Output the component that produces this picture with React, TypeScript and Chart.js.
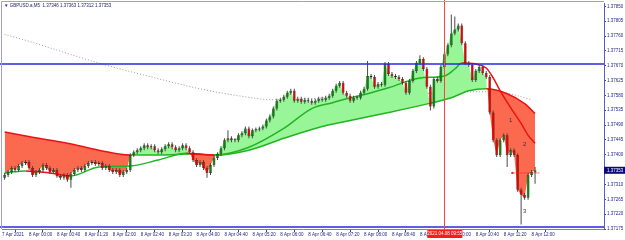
import React, { useEffect, useRef } from 'react';
import { Chart, registerables } from 'chart.js';
Chart.register(...registerables);

const title = 'GBPUSD.a,M5  1.37346 1.37363 1.37312 1.37353';

const opens = [1.37330,1.37339,1.37348,1.37360,1.37354,1.37366,1.37375,1.37378,1.37360,1.37339,
1.37348,1.37354,1.37369,1.37360,1.37348,1.37354,1.37336,1.37330,1.37339,1.37324,
1.37342,1.37354,1.37360,1.37354,1.37366,1.37375,1.37378,1.37372,1.37375,1.37360,
1.37366,1.37354,1.37348,1.37354,1.37339,1.37348,1.37354,1.37399,1.37408,1.37414,
1.37420,1.37429,1.37423,1.37426,1.37414,1.37408,1.37417,1.37426,1.37432,1.37423,
1.37414,1.37420,1.37429,1.37420,1.37408,1.37384,1.37369,1.37378,1.37360,1.37345,
1.37369,1.37390,1.37402,1.37420,1.37444,1.37450,1.37444,1.37444,1.37459,1.37465,
1.37480,1.37456,1.37474,1.37477,1.37480,1.37486,1.37504,1.37516,1.37540,1.37564,
1.37567,1.37576,1.37588,1.37594,1.37564,1.37570,1.37561,1.37567,1.37564,1.37558,
1.37564,1.37570,1.37567,1.37573,1.37579,1.37594,1.37609,1.37618,1.37588,1.37579,
1.37564,1.37573,1.37573,1.37588,1.37600,1.37639,1.37636,1.37606,1.37615,1.37612,
1.37675,1.37645,1.37639,1.37636,1.37630,1.37618,1.37588,1.37624,1.37654,1.37678,
1.37690,1.37660,1.37606,1.37546,1.37630,1.37624,1.37666,1.37705,1.37732,1.37768,
1.37780,1.37792,1.37738,1.37678,1.37672,1.37627,1.37654,1.37666,1.37648,1.37636,
1.37528,1.37444,1.37399,1.37444,1.37459,1.37399,1.37414,1.37399,1.37294,1.37279,
1.37270,1.37339,1.37346];

const highs = [1.37345,1.37354,1.37366,1.37366,1.37372,1.37381,1.37384,1.37384,1.37366,1.37354,
1.37360,1.37375,1.37375,1.37366,1.37360,1.37360,1.37342,1.37345,1.37345,1.37348,
1.37360,1.37366,1.37366,1.37372,1.37381,1.37384,1.37384,1.37381,1.37381,1.37372,
1.37372,1.37360,1.37360,1.37360,1.37354,1.37360,1.37405,1.37414,1.37420,1.37426,
1.37435,1.37435,1.37432,1.37432,1.37420,1.37423,1.37432,1.37438,1.37438,1.37429,
1.37426,1.37435,1.37435,1.37426,1.37414,1.37390,1.37384,1.37384,1.37366,1.37375,
1.37396,1.37408,1.37426,1.37450,1.37474,1.37456,1.37450,1.37465,1.37471,1.37486,
1.37486,1.37480,1.37483,1.37486,1.37492,1.37510,1.37522,1.37546,1.37570,1.37573,
1.37582,1.37594,1.37600,1.37600,1.37576,1.37576,1.37573,1.37573,1.37570,1.37570,
1.37576,1.37576,1.37579,1.37585,1.37600,1.37615,1.37624,1.37624,1.37594,1.37585,
1.37579,1.37579,1.37594,1.37606,1.37684,1.37645,1.37642,1.37621,1.37621,1.37681,
1.37681,1.37651,1.37645,1.37642,1.37636,1.37624,1.37630,1.37660,1.37684,1.37702,
1.37696,1.37666,1.37612,1.37636,1.37636,1.37672,1.37711,1.37738,1.37825,1.37819,
1.37798,1.37798,1.37744,1.37684,1.37678,1.37660,1.37672,1.37672,1.37654,1.37642,
1.37534,1.37450,1.37450,1.37465,1.37465,1.37420,1.37420,1.37405,1.37300,1.37285,
1.37345,1.37354,1.37363];

const lows = [1.37324,1.37333,1.37342,1.37348,1.37348,1.37360,1.37369,1.37354,1.37333,1.37333,
1.37342,1.37348,1.37354,1.37342,1.37342,1.37330,1.37324,1.37324,1.37318,1.37300,
1.37336,1.37348,1.37348,1.37348,1.37360,1.37369,1.37366,1.37366,1.37354,1.37354,
1.37348,1.37342,1.37342,1.37333,1.37333,1.37342,1.37348,1.37393,1.37402,1.37408,
1.37414,1.37417,1.37417,1.37408,1.37402,1.37402,1.37411,1.37420,1.37417,1.37408,
1.37408,1.37414,1.37414,1.37402,1.37378,1.37363,1.37363,1.37354,1.37330,1.37339,
1.37363,1.37384,1.37396,1.37414,1.37438,1.37438,1.37438,1.37438,1.37453,1.37459,
1.37450,1.37450,1.37468,1.37471,1.37474,1.37480,1.37498,1.37510,1.37534,1.37558,
1.37561,1.37570,1.37582,1.37558,1.37558,1.37555,1.37555,1.37558,1.37552,1.37552,
1.37558,1.37561,1.37561,1.37567,1.37573,1.37588,1.37603,1.37582,1.37573,1.37558,
1.37558,1.37567,1.37567,1.37582,1.37594,1.37630,1.37600,1.37600,1.37606,1.37606,
1.37639,1.37633,1.37630,1.37624,1.37612,1.37582,1.37582,1.37618,1.37648,1.37672,
1.37654,1.37600,1.37534,1.37540,1.37618,1.37618,1.37660,1.37699,1.37726,1.37762,
1.37774,1.37732,1.37672,1.37666,1.37621,1.37621,1.37648,1.37642,1.37630,1.37522,
1.37438,1.37393,1.37393,1.37438,1.37363,1.37393,1.37393,1.37288,1.37189,1.37264,
1.37264,1.37333,1.37312];

const closes = [1.37339,1.37348,1.37360,1.37354,1.37366,1.37375,1.37378,1.37360,1.37339,1.37348,
1.37354,1.37369,1.37360,1.37348,1.37354,1.37336,1.37330,1.37339,1.37324,1.37342,
1.37354,1.37360,1.37354,1.37366,1.37375,1.37378,1.37372,1.37375,1.37360,1.37366,
1.37354,1.37348,1.37354,1.37339,1.37348,1.37354,1.37399,1.37408,1.37414,1.37420,
1.37429,1.37423,1.37426,1.37414,1.37408,1.37417,1.37426,1.37432,1.37423,1.37414,
1.37420,1.37429,1.37420,1.37408,1.37384,1.37369,1.37378,1.37360,1.37345,1.37369,
1.37390,1.37402,1.37420,1.37444,1.37450,1.37444,1.37444,1.37459,1.37465,1.37480,
1.37456,1.37474,1.37477,1.37480,1.37486,1.37504,1.37516,1.37540,1.37564,1.37567,
1.37576,1.37588,1.37594,1.37564,1.37570,1.37561,1.37567,1.37564,1.37558,1.37564,
1.37570,1.37567,1.37573,1.37579,1.37594,1.37609,1.37618,1.37588,1.37579,1.37564,
1.37573,1.37573,1.37588,1.37600,1.37639,1.37636,1.37606,1.37615,1.37612,1.37675,
1.37645,1.37639,1.37636,1.37630,1.37618,1.37588,1.37624,1.37654,1.37678,1.37690,
1.37660,1.37606,1.37546,1.37630,1.37624,1.37666,1.37705,1.37732,1.37768,1.37780,
1.37792,1.37738,1.37678,1.37672,1.37627,1.37654,1.37666,1.37648,1.37636,1.37528,
1.37444,1.37399,1.37444,1.37459,1.37399,1.37414,1.37399,1.37294,1.37279,1.37270,
1.37339,1.37348,1.37353];

const slowIdx = [0, 8, 18, 27, 36, 45, 53, 60, 70, 80, 90, 99, 110, 119, 128, 133, 138, 144, 149, 152];
const slowVal = [1.37469,1.37453,1.37435,1.37414,1.37399,1.37399,1.37402,1.37399,1.37414,1.37450,1.37483,1.37504,1.37528,1.37549,1.37573,1.37594,1.37600,1.37585,1.37555,1.37525];

const fastIdx = [0, 6, 13, 19, 27, 36, 44, 52, 60, 70, 80, 88, 94, 98, 104, 110, 119, 126, 129, 131, 135, 138, 140, 142, 145, 148, 150, 152];
const fastVal = [1.37345,1.37351,1.37345,1.37336,1.37363,1.37366,1.37384,1.37405,1.37399,1.37423,1.37480,1.37540,1.37558,1.37570,1.37585,1.37603,1.37633,1.37639,1.37660,1.37678,1.37675,1.37663,1.37633,1.37594,1.37543,1.37495,1.37459,1.37435];

const longIdx = [0, 7, 16, 27, 42, 56, 67, 77, 99, 119, 136, 143, 151];
const longVal = [1.37765,1.37744,1.37714,1.37678,1.37636,1.37600,1.37579,1.37567,1.37576,1.37585,1.37591,1.37588,1.37567];

const yTicks = [1.37175,1.37220,1.37265,1.37310,1.37355,1.37400,1.37445,1.37490,1.37535,1.37580,1.37625,1.37670,1.37715,1.37760,1.37805,1.37850];
const xTickIdx = [-0.745, 7, 15, 23, 31, 39, 47, 55, 63, 71, 79, 87, 95, 103, 111, 119, 127, 135, 143, 151];
const xTickText = ['7 Apr 2021','8 Apr 00:00','8 Apr 00:40','8 Apr 01:20','8 Apr 02:00','8 Apr 02:40','8 Apr 03:20','8 Apr 04:00','8 Apr 04:40','8 Apr 05:20','8 Apr 06:00','8 Apr 06:40','8 Apr 07:20','8 Apr 08:00','8 Apr 08:40','8 Apr 09:20','8 Apr 10:00','8 Apr 10:40','8 Apr 11:20','8 Apr 12:00'];

const levels = [1.37675, 1.37181];
const vLineIdx = 126;
const vLineLabel = '2021.04.08 09:55';
const lastPrice = 1.37353;
const waveText = ['1', '2', '3'];
const waveIdx = [145, 149, 149];
const waveVal = [1.37504, 1.37432, 1.37228];
const stopIdx = [145.5, 153.5];
const stopVal = 1.37345;

const GREEN = '#22b422';
const RED = '#ee1111';
const axisFont = { family: 'Liberation Sans', size: 4.5 };
const axisColor = '#24248a';

const overlay = {
  id: 'overlay',
  afterDatasetsDraw(chart: any) {
    const { ctx, chartArea: a, scales } = chart;
    const x = scales.x, y = scales.y;
    ctx.save();
    ctx.strokeStyle = '#2a2ad8';
    ctx.lineWidth = 1.5;
    levels.forEach((v) => {
      const py = y.getPixelForValue(v);
      ctx.beginPath();
      ctx.moveTo(0, py);
      ctx.lineTo(a.right, py);
      ctx.stroke();
    });
    const vx = Math.round(x.getPixelForValue(vLineIdx)) + 0.5;
    ctx.strokeStyle = '#ff4040';
    ctx.lineWidth = 1;
    ctx.beginPath();
    ctx.moveTo(vx, 0);
    ctx.lineTo(vx, a.bottom + 2);
    ctx.stroke();
    ctx.strokeStyle = '#ff2020';
    ctx.setLineDash([1, 1]);
    const sy = y.getPixelForValue(stopVal);
    ctx.beginPath();
    ctx.moveTo(x.getPixelForValue(stopIdx[0]), sy);
    ctx.lineTo(x.getPixelForValue(stopIdx[1]), sy);
    ctx.stroke();
    ctx.setLineDash([]);
    ctx.fillStyle = '#ff2020';
    ctx.beginPath();
    ctx.arc(x.getPixelForValue(stopIdx[0]), sy, 1.2, 0, Math.PI * 2);
    ctx.fill();
    ctx.fillStyle = '#303060';
    ctx.font = '6px "Liberation Sans"';
    ctx.textAlign = 'center';
    ctx.textBaseline = 'middle';
    waveText.forEach((t, i) => {
      ctx.fillText(t, x.getPixelForValue(waveIdx[i]), y.getPixelForValue(waveVal[i]));
    });
    ctx.strokeStyle = '#a0a0cc';
    ctx.lineWidth = 1;
    ctx.beginPath();
    ctx.moveTo(1.5, a.bottom);
    ctx.lineTo(1.5, 1.5);
    ctx.lineTo(a.right, 1.5);
    ctx.stroke();
    ctx.restore();
  },
  afterDraw(chart: any) {
    const { ctx, chartArea: a, scales } = chart;
    const x = scales.x, y = scales.y;
    ctx.save();
    ctx.font = '4.5px "Liberation Sans"';
    ctx.textBaseline = 'middle';
    const py = y.getPixelForValue(lastPrice);
    ctx.fillStyle = '#0a0a78';
    ctx.fillRect(a.right, py - 3.5, 21, 7);
    ctx.fillStyle = '#ffffff';
    ctx.textAlign = 'left';
    ctx.fillText(lastPrice.toFixed(5), a.right + 3, py);
    const vx = x.getPixelForValue(vLineIdx);
    ctx.fillStyle = '#ff1a1a';
    ctx.fillRect(vx - 17, a.bottom + 1, 35, 8);
    ctx.fillStyle = '#ffffff';
    ctx.textAlign = 'center';
    ctx.fillText(vLineLabel, vx + 0.5, a.bottom + 5);
    ctx.fillStyle = '#1a1a70';
    ctx.textAlign = 'left';
    ctx.fillText('\u25BC ' + title, 4, 5.5);
    ctx.restore();
  },
};

export default function App() {
  const ref = useRef<HTMLCanvasElement>(null);
  useEffect(() => {
    document.body.style.margin = '0';
    const bodies = opens.map((o, i) => ({ x: i, y: [o, closes[i]] }));
    const wicks = opens.map((o, i) => ({ x: i, y: [lows[i], highs[i]] }));
    const closeLine = closes.map((c, i) => ({ x: i, y: c }));
    const slow = slowIdx.map((ix, i) => ({ x: ix, y: slowVal[i] }));
    const fast = fastIdx.map((ix, i) => ({ x: ix, y: fastVal[i] }));
    const long = longIdx.map((ix, i) => ({ x: ix, y: longVal[i] }));
    const slopeColor = (c: any) => (c.p1.parsed.y >= c.p0.parsed.y ? GREEN : RED);
    const chart = new Chart(ref.current as HTMLCanvasElement, {
      type: 'bar',
      data: {
        datasets: [
          { type: 'line', data: long, borderColor: '#9a9a9a', borderWidth: 1, borderDash: [1, 2], pointRadius: 0, cubicInterpolationMode: 'monotone', order: 10 } as any,
          { type: 'line', data: slow, borderWidth: 1.5, pointRadius: 0, cubicInterpolationMode: 'monotone', segment: { borderColor: slopeColor }, order: 8 } as any,
          { type: 'line', data: closeLine, borderWidth: 0, borderColor: 'rgba(0,0,0,0)', pointRadius: 0, fill: { target: 1, above: '#98f598', below: '#fb6a4f' }, order: 9 } as any,
          { type: 'line', data: fast, borderWidth: 1.5, pointRadius: 0, cubicInterpolationMode: 'monotone', segment: { borderColor: slopeColor }, order: 7 } as any,
          { type: 'bar', data: wicks, backgroundColor: '#4a4a4a', barThickness: 1, grouped: false, inflateAmount: 0, order: 6 } as any,
          { type: 'bar', data: bodies, backgroundColor: opens.map((o, i) => (closes[i] >= o ? '#0f7f0f' : '#e60000')), borderColor: '#1e1e1e', borderWidth: 0.5, borderSkipped: false, barThickness: 2.8, minBarLength: 1, grouped: false, inflateAmount: 0, order: 5 } as any,
        ],
      },
      options: {
        animation: false,
        responsive: false,
        maintainAspectRatio: false,
        devicePixelRatio: 1,
        events: [],
        layout: { padding: { left: 2, top: 2, right: 0, bottom: 0 } },
        plugins: { legend: { display: false }, tooltip: { enabled: false }, filler: { propagate: false } },
        scales: {
          x: {
            type: 'linear',
            min: -0.745,
            max: 171.75,
            offset: false,
            afterFit: (s: any) => { s.height = 11; },
            afterBuildTicks: (s: any) => { s.ticks = xTickIdx.map((v) => ({ value: v })); },
            grid: { display: true, drawOnChartArea: false, tickLength: 3, color: '#404080' },
            border: { display: true, color: '#8080c0' },
            ticks: { autoSkip: false, maxRotation: 0, minRotation: 0, align: 'start', padding: 0, font: axisFont, color: axisColor, callback: (_v: any, i: number) => xTickText[i] },
          },
          y: {
            type: 'linear',
            position: 'right',
            min: 1.37175,
            max: 1.37858,
            afterFit: (s: any) => { s.width = 21; },
            afterBuildTicks: (s: any) => { s.ticks = yTicks.map((v) => ({ value: v })); },
            grid: { display: true, drawOnChartArea: false, tickLength: 2, color: '#404080' },
            border: { display: true, color: '#5a5ac8' },
            ticks: { padding: 1, font: axisFont, color: axisColor, callback: (v: any) => Number(v).toFixed(5) },
          },
        },
      },
      plugins: [overlay],
    } as any);
    return () => chart.destroy();
  }, []);
  return (
    <div style={{ width: 625, height: 240, background: '#fff' }}>
      <canvas ref={ref} width={625} height={240} />
    </div>
  );
}
